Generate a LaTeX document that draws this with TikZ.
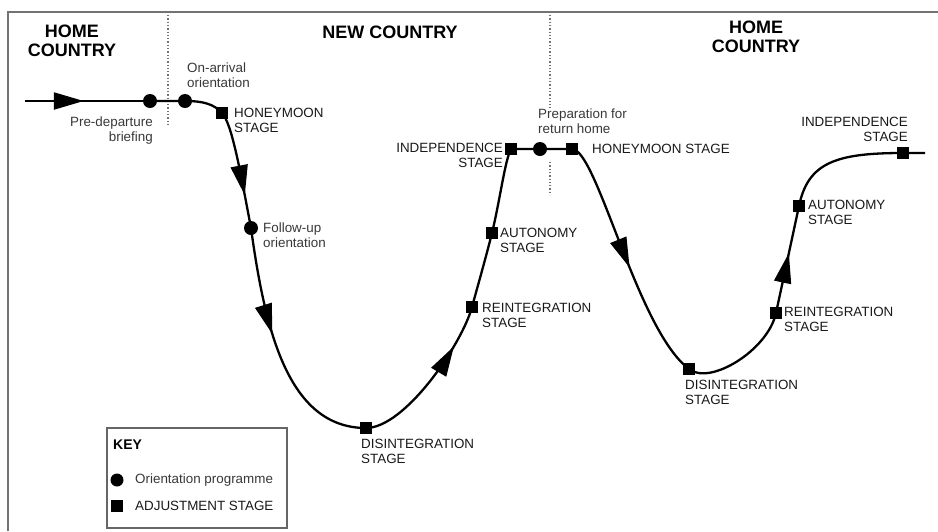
\documentclass[tikz,border=0pt]{standalone}
\usepackage{fontspec}
\setmainfont{Liberation Sans}
\usetikzlibrary{arrows.meta,decorations.markings}
\begin{document}
\begin{tikzpicture}[x=1pt,y=-1pt,
  orient/.style={circle,fill=black,inner sep=0pt,minimum size=14pt},
  adjust/.style={rectangle,fill=black,inner sep=0pt,minimum size=12.5pt},
  curve/.style={line width=2.3pt,black},
  midarrow/.style={postaction={decorate},decoration={markings,mark=at position #1 with {\arrow{Triangle[length=30pt,width=17pt]}}}},
  lbl/.style={inner sep=0pt,font=\fontsize{13.4}{15}\selectfont,text=black!90,align=left},
  small/.style={lbl,text=black!78},
  head/.style={inner sep=0pt,font=\fontsize{18}{19.5}\selectfont\bfseries,align=center},
  divider/.style={black!55,line width=1.3pt,dotted},
  frame/.style={black!55,line width=2pt}]
\useasboundingbox (0,0) rectangle (938,531);
% frame
\coordinate (ftl) at (8,12);
\coordinate (ftr) at (938,12);
\coordinate (fbl) at (8,531);
\draw[frame] (fbl) -- (ftl) -- (ftr);
% dividers
\coordinate (d1t) at (168,15);
\coordinate (d1b) at (168,125);
\coordinate (d2t) at (550,15);
\coordinate (d2m) at (550,108);
\coordinate (d2n) at (550,162);
\coordinate (d2b) at (550,195);
\draw[divider] (d1t) -- (d1b);
\draw[divider] (d2t) -- (d2m);
\draw[divider] (d2n) -- (d2b);
% headers
\node[head] (hc1) at (72,41) {HOME\\COUNTRY};
\node[head] (nc) at (390,32) {NEW COUNTRY};
\node[head] (hc2) at (756,37) {HOME\\COUNTRY};
% markers
\coordinate (S) at (25,101);
\node[orient] (C1) at (150,101) {};
\node[orient] (C2) at (185,101) {};
\node[adjust] (H1) at (222,113) {};
\node[orient] (F) at (251,228) {};
\node[adjust] (D1) at (366,428) {};
\node[adjust] (R1) at (472,307) {};
\node[adjust] (A1) at (492,233) {};
\node[adjust] (I1) at (511,149) {};
\node[orient] (P) at (540,149) {};
\node[adjust] (H2) at (572,149) {};
\node[adjust] (D2) at (689,369) {};
\node[adjust] (R2) at (776,313) {};
\node[adjust] (A2) at (799,206) {};
\node[adjust] (I2) at (903,153) {};
\coordinate (E) at (925,153);
% curve
\draw[curve,midarrow=0.47] (S) -- (C1.center);
\draw[curve] (C1.center) -- (C2.center) .. controls (203,101) and (214,104) .. (H1.center);
\draw[curve,midarrow=0.72] (H1.center) .. controls (232,124) and (240,170) .. (F.center);
\draw[curve,midarrow=0.43] (F.center) .. controls (265,330) and (288,428) .. (D1.center);
\draw[curve,midarrow=0.74] (D1.center) .. controls (405,428) and (462,344) .. (R1.center);
\draw[curve] (R1.center) .. controls (478,285) and (486,257) .. (A1.center)
  .. controls (500,200) and (505,160) .. (I1.center) -- (P.center) -- (H2.center);
\draw[curve,midarrow=0.53] (H2.center) .. controls (597,149) and (637,330) .. (D2.center);
\draw[curve] (D2.center) .. controls (710,386) and (768,350) .. (R2.center);
\draw[curve,midarrow=0.56] (R2.center) -- (A2.center);
\draw[curve] (A2.center) .. controls (808,163) and (835,153) .. (I2.center) -- (E);
% labels
\node[small,anchor=east,align=right] (lpre) at (153,131) {Pre-departure\\briefing};
\node[small,anchor=west] (lon) at (187,75) {On-arrival\\orientation};
\node[lbl,anchor=west] (lh1) at (234,120) {HONEYMOON\\STAGE};
\node[small,anchor=west] (lfu) at (263,235) {Follow-up\\orientation};
\node[lbl,anchor=west] (ld1) at (361,451) {DISINTEGRATION\\STAGE};
\node[lbl,anchor=west] (lr1) at (482,315) {REINTEGRATION\\STAGE};
\node[lbl,anchor=west] (la1) at (500,240) {AUTONOMY\\STAGE};
\node[lbl,anchor=east,align=right] (li1) at (503,155) {INDEPENDENCE\\STAGE};
\node[small,anchor=west] (lprep) at (538,121) {Preparation for\\return home};
\node[lbl,anchor=west] (lh2) at (592,149) {HONEYMOON STAGE};
\node[lbl,anchor=west] (ld2) at (685,392) {DISINTEGRATION\\STAGE};
\node[lbl,anchor=west] (lr2) at (784,319) {REINTEGRATION\\STAGE};
\node[lbl,anchor=west] (la2) at (808,212) {AUTONOMY\\STAGE};
\node[lbl,anchor=east,align=right] (li2) at (908,129) {INDEPENDENCE\\STAGE};
% key
\node[draw=black!60,line width=1.2pt,minimum width=180pt,minimum height=100pt,inner sep=0pt] (key) at (197,478) {};
\node[inner sep=0pt,anchor=west,font=\fontsize{14}{16}\selectfont\bfseries] (keyt) at (113,445) {KEY};
\node[orient,minimum size=13pt] (kc) at (117,480) {};
\node[small,anchor=west] (kct) at (135,480) {Orientation programme};
\node[adjust,minimum size=12pt] (ks) at (117,506) {};
\node[lbl,anchor=west] (kst) at (135,506) {ADJUSTMENT STAGE};
\end{tikzpicture}
\end{document}
